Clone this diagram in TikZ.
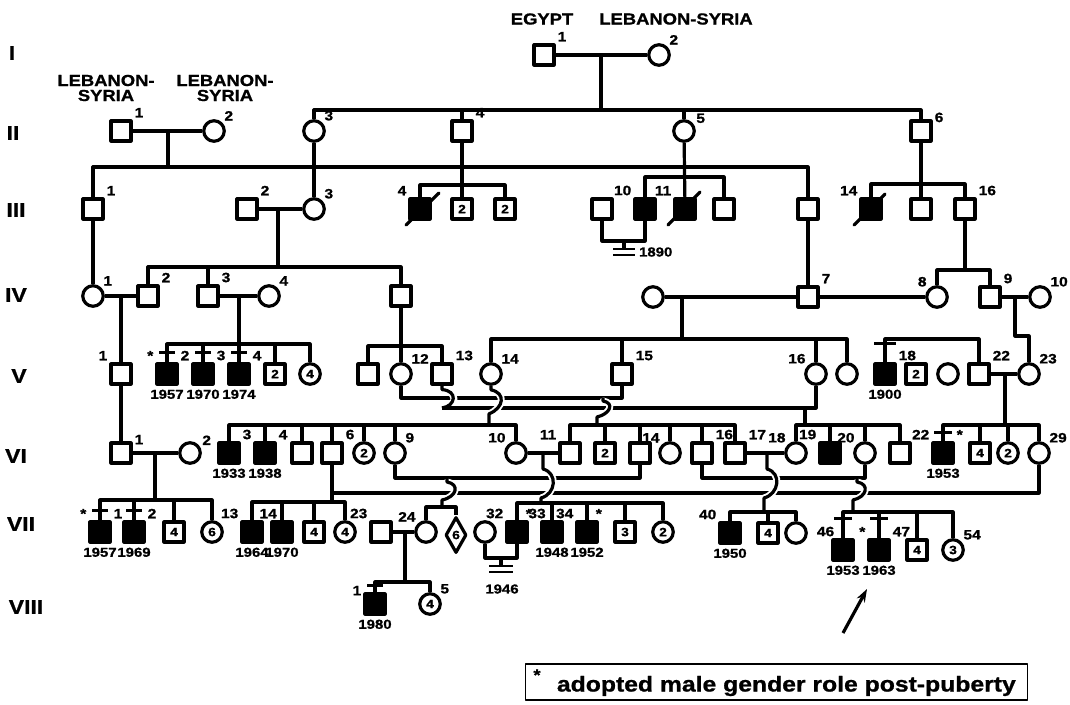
\documentclass[tikz,border=0pt]{standalone}
\usepackage{fontspec}
\usetikzlibrary{shapes.geometric,arrows.meta}
\newfontfamily\pedfont[FakeStretch=1.15, FakeBold=1]{Liberation Sans}
\newcommand{\pfs}[1]{\pedfont\bfseries\fontsize{#1}{#1}\selectfont}
\tikzstyle{sq} = [draw, rectangle, line width=3.2pt, minimum size=20pt, inner sep=0pt, font=\pfs{12}]
\tikzstyle{ci} = [draw, circle, line width=3.2pt, minimum size=20.5pt, inner sep=0pt, font=\pfs{12}]

\begin{document}
\begin{tikzpicture}[x=1pt, y=-1pt, line width=3.2pt, line join=round,
			aff/.style={sq, fill=black},
			dia/.style={draw, diamond, line width=3.2pt, minimum width=21pt, minimum height=36pt, inner sep=0pt, font=\pfs{12}},
			num/.style={font=\pfs{13.5}, inner sep=0.5pt},
			yl/.style={font=\pfs{13}, inner sep=0.5pt, yshift=-2pt},
			yr/.style={font=\pfs{13}, inner sep=0.5pt},
			gen/.style={font=\pfs{20}},
			hdr/.style={font=\pedfont\bfseries\fontsize{16}{15}\selectfont, align=center},
			hop/.style={preaction={draw=white, line width=7pt, shorten <=5pt, shorten >=5pt}},
			tick/.style={line width=2.6pt}]
			\fill[white] (0,0) rectangle (1070,704);
			\useasboundingbox (0,0) rectangle (1070,704);
			
			\node[gen] (gI) at (12,53) {I};
			\node[gen] (gII) at (13,133) {II};
			\node[gen] (gIII) at (16,210) {III};
			\node[gen] (gIV) at (16,295) {IV};
			\node[gen] (gV) at (19,376) {V};
			\node[gen] (gVI) at (16,456) {VI};
			\node[gen] (gVII) at (21,524) {VII};
			\node[gen] (gVIII) at (26,607) {VIII};
			
			\node[hdr] (egypt) at (542,19) {EGYPT};
			\node[hdr] (lebsyr) at (676,19) {LEBANON-SYRIA};
			\node[hdr] (lebsyrA) at (106,88) {LEBANON-\\SYRIA};
			\node[hdr] (lebsyrB) at (225,88) {LEBANON-\\SYRIA};
			
			\node[sq, label={[num]45:1}] (I1) at (544,55) {};
			\node[ci, label={[num]45:2}] (I2) at (659,55) {};
			
			\node[sq, label={[num]45:1}] (II1) at (121,131) {};
			\node[ci, label={[num]45:2}] (II2) at (214,131) {};
			\node[ci, label={[num]45:3}] (II3) at (314,131) {};
			\node[sq, label={[num]45:4}] (II4) at (462,131) {};
			\node[ci, label={[num]30:5}] (II5) at (684,131) {};
			\node[sq, label={[num]30:6}] (II6) at (921,131) {};
			
			\node[sq, label={[num]45:1}] (III1) at (93,209) {};
			\node[sq, label={[num]45:2}] (III2) at (247,209) {};
			\node[ci, label={[num]45:3}] (III3) at (314,209) {};
			\node[aff, label={[num]135:4}] (III4) at (420,209) {};
			\node[sq] (IIIa) at (462,209) {2};
			\node[sq] (IIIb) at (505,209) {2};
			\node[sq] (IIIc) at (602,209) {};
			\node[aff, label={[num]135:10}] (III10) at (645,209) {};
			\node[aff, label={[num]135:11}] (III11) at (685,209) {};
			\node[sq] (IIId) at (724,209) {};
			\node[sq] (IIIe) at (808,209) {};
			\node[aff, label={[num]135:14}] (III14) at (871,209) {};
			\node[sq] (IIIf) at (921,209) {};
			\node[sq, label={[num]45:16}] (III16) at (965,209) {};
			
			\node[ci, label={[num]45:1}] (IV1) at (93,296) {};
			\node[sq, label={[num]45:2}] (IV2) at (148,296) {};
			\node[sq, label={[num]45:3}] (IV3) at (208,296) {};
			\node[ci, label={[num]45:4}] (IV4) at (269,296) {};
			\node[sq] (IVa) at (401,296) {};
			\node[ci] (IVb) at (653,297) {};
			\node[sq, label={[num]45:7}] (IV7) at (808,297) {};
			\node[ci, label={[num]135:8}] (IV8) at (937,297) {};
			\node[sq, label={[num]45:9}] (IV9) at (990,297) {};
			\node[ci, label={[num]45:10}] (IV10) at (1040,297) {};
			
			\node[sq, label={[num]135:1}] (V1) at (121,374) {};
			\node[aff, label={[num]45:2}, label={[num]135:*}, label={[yl]below:1957}] (V2) at (167,374) {};
			\node[aff, label={[num]45:3}, label={[yl]below:1970}] (V3) at (203,374) {};
			\node[aff, label={[num]45:4}, label={[yl]below:1974}] (V4) at (239,374) {};
			\node[sq] (Va) at (275,374) {2};
			\node[ci] (Vb) at (310,374) {4};
			\node[sq] (Vc) at (368,374) {};
			\node[ci, label={[num]45:12}] (V12) at (401,374) {};
			\node[sq, label={[num]45:13}] (V13) at (442,374) {};
			\node[ci, label={[num]45:14}] (V14) at (491,374) {};
			\node[sq, label={[num]45:15}] (V15) at (622,374) {};
			\node[ci, label={[num]135:16}] (V16) at (816,374) {};
			\node[ci] (Vd) at (847,374) {};
			\node[aff, label={[num]45:18}, label={[yl]below:1900}] (V18) at (885,374) {};
			\node[sq] (Ve) at (916,374) {2};
			\node[ci] (Vf) at (948,374) {};
			\node[sq, label={[num]45:22}] (V22) at (979,374) {};
			\node[ci, label={[num]45:23}] (V23) at (1029,374) {};
			
			\node[sq, label={[num]30:1}] (VI1) at (121,453) {};
			\node[ci, label={[num]30:2}] (VI2) at (190,453) {};
			\node[aff, label={[num]45:3}, label={[yl]below:1933}] (VI3) at (229,453) {};
			\node[aff, label={[num]45:4}, label={[yl]below:1938}] (VI4) at (265,453) {};
			\node[sq] (VIa) at (302,453) {};
			\node[sq, label={[num]45:6}] (VI6) at (332,453) {};
			\node[ci] (VIb) at (364,453) {2};
			\node[ci, label={[num]45:9}] (VI9) at (395,453) {};
			\node[ci, label={[num]135:10}] (VI10) at (516,453) {};
			\node[sq, label={[num]135:11}] (VI11) at (570,453) {};
			\node[sq] (VIc) at (605,453) {2};
			\node[sq] (VId) at (640,453) {};
			\node[ci, label={[num]135:14}] (VIe) at (670,453) {};
			\node[sq, label={[num]45:16}] (VI16) at (702,453) {};
			\node[sq, label={[num]45:17}] (VI17) at (735,453) {};
			\node[ci, label={[num]135:18}] (VI18) at (796,453) {};
			\node[aff, label={[num]135:19}] (VI19) at (830,453) {};
			\node[ci, label={[num]135:20}] (VI20) at (865,453) {};
			\node[sq] (VIf) at (900,453) {};
			\node[aff, label={[num]135:22}, label={[num]45:*}, label={[yl]below:1953}] (VI22) at (943,453) {};
			\node[sq] (VIg) at (980,453) {4};
			\node[ci] (VIh) at (1008,453) {2};
			\node[ci, label={[num]45:29}] (VI29) at (1039,453) {};
			
			\node[aff, label={[num]45:1}, label={[num]135:*}, label={[yl]below:1957}] (VII1) at (100,532) {};
			\node[aff, label={[num]45:2}, label={[yl]below:1969}] (VII2) at (134,532) {};
			\node[sq] (VIIa) at (174,532) {4};
			\node[ci] (VIIb) at (212,532) {6};
			\node[aff, label={[num]135:13}, label={[yl]below:1964}] (VII13) at (252,532) {};
			\node[aff, label={[num]105:14}, label={[yl]below:1970}] (VII14) at (282,532) {};
			\node[sq] (VIIc) at (314,532) {4};
			\node[ci] (VIId) at (345,532) {4};
			\node[sq, label={[num]135:23}] (VII23) at (381,532) {};
			\node[ci, label={[num]135:24}] (VII24) at (426,532) {};
			\node[dia] (VIIe) at (456,535) {6};
			\node[ci] (VIIf) at (485,532) {};
			\node[aff, label={[num]135:32}, label={[num]60:*}] (VII32) at (517,532) {};
			\node[aff, label={[num]110:33}, label={[yl]below:1948}] (VII33) at (552,532) {};
			\node[aff, label={[num]135:34}, label={[num]60:*}, label={[yl]below:1952}] (VII34) at (587,532) {};
			\node[sq] (VIIg) at (625,532) {3};
			\node[ci] (VIIh) at (663,532) {2};
			\node[aff, label={[num]135:40}, label={[yl]below:1950}] (VII40) at (730,533) {};
			\node[sq] (VIIi) at (768,533) {4};
			\node[ci] (VIIj) at (796,533) {};
			\node[aff, label={[num]120:46}, label={[yl]below:1953}] (VII46) at (843,550) {};
			\node[aff, label={[num]135:*}, label={[num]45:47}, label={[yl]below:1963}] (VII47) at (879,550) {};
			\node[sq] (VIIk) at (917,550) {4};
			\node[ci, label={[num]45:54}] (VII54) at (953,550) {3};
			
			\node[aff, label={[num]150:1}, label={[yl]below:1980}] (VIII1) at (375,604) {};
			\node[ci, label={[num]45:5}] (VIII5) at (430,604) {4};
			
			\draw (I1) -- (I2);
			\coordinate (mI) at (601,55);
			\coordinate (sI) at (601,110);
			\draw (mI) -- (sI);
			\draw (II3.north) |- (sI) -| (II6.north);
			\draw (II4) -- (II4 |- sI);
			\draw (II5) -- (II5 |- sI);
			
			\draw (II1) -- (II2);
			\coordinate (mII) at (168,131);
			\coordinate (sII) at (168,167);
			\draw (mII) -- (sII);
			\draw (III1.north) |- (sII) -| (IIIe.north);
			\draw (II3) -- (III3);
			\coordinate (sII4) at (462,185);
			\draw (III4.north) |- (sII4) -| (IIIb.north);
			\draw (II4) -- (IIIa);
			\coordinate (sII5) at (684,177);
			\draw (III10.north) |- (sII5) -| (IIId.north);
			\draw (II5) -- (III11);
			\coordinate (sII6) at (921,184);
			\draw (III14.north) |- (sII6) -| (III16.north);
			\draw (II6) -- (IIIf);
			\draw[line cap=round] (III4.center) ++(-14,16) -- ++(33,-32);
			\draw[line cap=round] (III11.center) ++(-17,16) -- ++(32,-33);
			\draw[line cap=round] (III14.center) ++(-17,16) -- ++(31,-31);
			
			\draw (III2) -- (III3);
			\coordinate (mIII) at (278,209);
			\coordinate (sIII) at (278,267);
			\draw (mIII) -- (sIII);
			\draw (IV2.north) |- (sIII) -| (IVa.north);
			\draw (IV3) -- (IV3 |- sIII);
			\coordinate (uIII) at (624,241);
			\draw (IIIc.south) |- (uIII) -| (III10.south);
			\coordinate (nIII) at (624,249);
			\draw (uIII) -- (nIII);
			\draw[tick] (nIII) ++(-11,0) -- ++(22,0) ++(-22,6) -- ++(22,0);
			\node[yr, anchor=west] (d1890) at (637,252) {1890};
			\draw (IIIe) -- (IV7);
			\coordinate (sIII16) at (965,270);
			\draw (III16) -- (sIII16);
			\draw (IV8.north) |- (sIII16) -| (IV9.north);
			\draw (III1) -- (IV1);
			
			\draw (IV1) -- (IV2);
			\coordinate (mIV1) at (121,296);
			\draw (mIV1) -- (V1);
			\draw (IV3) -- (IV4);
			\coordinate (mIV3) at (239,296);
			\coordinate (sIV3) at (239,344);
			\draw (mIV3) -- (sIV3);
			\draw (V2.north) |- (sIV3) -| (Vb.north);
			\draw (V3) -- (V3 |- sIV3);
			\draw (Va) -- (Va |- sIV3);
			\draw (V4) -- (sIV3);
			\foreach \n in {V2,V3,V4} \draw[tick] (\n.north) ++(-8,-10) -- ++(16,0);
			\coordinate (sIVa) at (401,346);
			\draw (Vc.north) |- (sIVa) -| (V13.north);
			\draw (IVa) -- (V12);
			\draw (IVb) -- (IV7);
			\coordinate (mIV7) at (682,297);
			\coordinate (sIV7) at (682,339);
			\draw (mIV7) -- (sIV7);
			\draw (V14.north) |- (sIV7) -| (Vd.north);
			\draw (V15) -- (V15 |- sIV7);
			\draw (V16) -- (V16 |- sIV7);
			\draw (IV7) -- (IV8);
			\draw (IV9) -- (IV10);
			\coordinate (mIV9) at (1015,297);
			\coordinate (sIV9) at (1029,336);
			\draw (mIV9) |- (sIV9) -- (V23);
			
			\coordinate (sV18) at (930,339);
			\draw (V18.north) |- (sV18) -| (V22.north);
			\draw[tick] (V18.north) ++(-11,-19) -- ++(22,0);
			\draw (V22) -- (V23);
			\coordinate (mV22) at (1005,374);
			\coordinate (sV22) at (1005,425);
			\draw (mV22) -- (sV22);
			\draw (VI22.north) |- (sV22) -| (VI29.north);
			\draw (VIg) -- (VIg |- sV22);
			\draw (VIh) -- (VIh |- sV22);
			\draw[tick] (VI22.north) ++(-9,-9) -- ++(18,0);
			\draw (V1) -- (VI1);
			
			\coordinate (cV15) at (622,398);
			\draw (V12.south) |- (cV15) -- (V15.south);
			\coordinate (jV13) at (442,408);
			\coordinate (cV16) at (816,408);
			\draw[hop] (V13.south) -- ++(0,4) .. controls +(16,1) and +(14,-2) .. (jV13);
			\draw (jV13) -- (cV16) -- (V16.south);
			\coordinate (sV14) at (489,425);
			\draw[hop] (V14.south) -- ++(0,4) .. controls +(15,3) and +(15,-6) .. ++(-2,24) -- (sV14);
			\coordinate (mV12) at (603,398);
			\coordinate (sV12) at (597,425);
			\draw[hop] (mV12) -- ++(0,3) .. controls +(12,2) and +(13,-3) .. ++(-6,16) -- (sV12);
			\draw (VI11.north) |- (sV12) -| (VI17.north);
			\foreach \n in {VIc,VId,VIe,VI16} \draw (\n) -- (\n |- sV12);
			\coordinate (mV13) at (805,408);
			\coordinate (sV13) at (805,425);
			\draw (mV13) -- (sV13);
			\draw (VI18.north) |- (sV13) -| (VIf.north);
			\draw (VI19) -- (VI19 |- sV13);
			\draw (VI20) -- (VI20 |- sV13);
			\draw (VI3.north) |- (sV14) -| (VI10.north);
			\foreach \n in {VI4,VIa,VI6,VIb,VI9} \draw (\n) -- (\n |- sV14);
			
			\draw (VI1) -- (VI2);
			\coordinate (mVI1) at (155,453);
			\coordinate (sVI1) at (155,500);
			\draw (mVI1) -- (sVI1);
			\draw (VII1.north) |- (sVI1) -| (VIIb.north);
			\draw (VII2) -- (VII2 |- sVI1);
			\draw (VIIa) -- (VIIa |- sVI1);
			\foreach \n in {VII1,VII2} \draw[tick] (\n.north) ++(-8,-10) -- ++(16,0);
			\coordinate (cVI9) at (640,478);
			\draw (VI9.south) |- (cVI9) -- (VId.south);
			\coordinate (cVI20) at (865,478);
			\draw (VI16.south) |- (cVI20) -- (VI20.south);
			\coordinate (cVI29) at (1039,493);
			\coordinate (sVI6) at (332,502);
			\draw (VI6.south) -- (sVI6);
			\draw (VI6.south |- cVI29) -- (cVI29) -- (VI29.south);
			\draw (VII13.north) |- (sVI6) -| (VIId.north);
			\draw (VII14) -- (VII14 |- sVI6);
			\draw (VIIc) -- (VIIc |- sVI6);
			
			\coordinate (mVI9) at (447,478);
			\coordinate (sVI9) at (442,507);
			\draw[hop] (mVI9) -- ++(0,4) .. controls +(13,2) and +(15,-3) .. ++(-5,18) -- (sVI9);
			\draw (VII24.north) |- (sVI9) -| (VIIe.north);
			\draw (VI10) -- (VI11);
			\coordinate (mVI10) at (543,453);
			\coordinate (sVI10) at (541,503);
			\draw[hop] (mVI10) -- ++(0,16) .. controls +(15,4) and +(15,-4) .. ++(-2,29) -- (sVI10);
			\draw (VII32.north) |- (sVI10) -| (VIIh.north);
			\foreach \n in {VII33,VII34,VIIg} \draw (\n) -- (\n |- sVI10);
			\draw (VI17) -- (VI18);
			\coordinate (mVI17) at (767,453);
			\coordinate (sVI17) at (764,512);
			\draw[hop] (mVI17) -- ++(0,16) .. controls +(15,4) and +(15,-4) .. ++(-3,29) -- (sVI17);
			\draw (VII40.north) |- (sVI17) -| (VIIj.north);
			\draw (VIIi) -- (VIIi |- sVI17);
			\coordinate (mVI16) at (857,478);
			\coordinate (sVI16) at (853,512);
			\draw[hop] (mVI16) -- ++(0,4) .. controls +(13,2) and +(14,-3) .. ++(-4,18) -- (sVI16);
			\draw (VII46.north) |- (sVI16) -| (VII54.north);
			\draw (VII47) -- (VII47 |- sVI16);
			\draw (VIIk) -- (VIIk |- sVI16);
			\foreach \n in {VII46,VII47} \draw[tick] (\n.north) ++(-9,-20) -- ++(18,0);
			
			\coordinate (uVII) at (501,558);
			\draw (VIIf.south) |- (uVII) -| (VII32.south);
			\coordinate (nVII) at (501,565);
			\draw (uVII) -- (nVII);
			\draw[tick] (nVII) ++(-12,1) -- ++(24,0) ++(-24,6) -- ++(24,0);
			\node[yr] (d1946) at (502,589) {1946};
			\draw (VII23) -- (VII24);
			\coordinate (mVII23) at (405,532);
			\coordinate (sVII23) at (405,582);
			\draw (mVII23) -- (sVII23);
			\draw (VIII1.north) |- (sVII23) -| (VIII5.north);
			\draw[tick] (VIII1.north) ++(-8,-7) -- ++(16,0);
			
			\coordinate (arT) at (843,633);
			\coordinate (arH) at (867,589);
			\draw[-{Stealth[length=13pt,width=9pt]}] (arT) -- (arH);
			
			\node[draw, line width=1.5pt, minimum width=502pt, minimum height=36pt, inner sep=0pt] (key) at (776.5,682) {};
			\node[font=\pfs{16}] (keystar) at (537,675) {*};
			\node[font=\pfs{21.5}, anchor=west] (keytxt) at (552,686) {adopted male gender role post-puberty};
		\end{tikzpicture}
\end{document}
